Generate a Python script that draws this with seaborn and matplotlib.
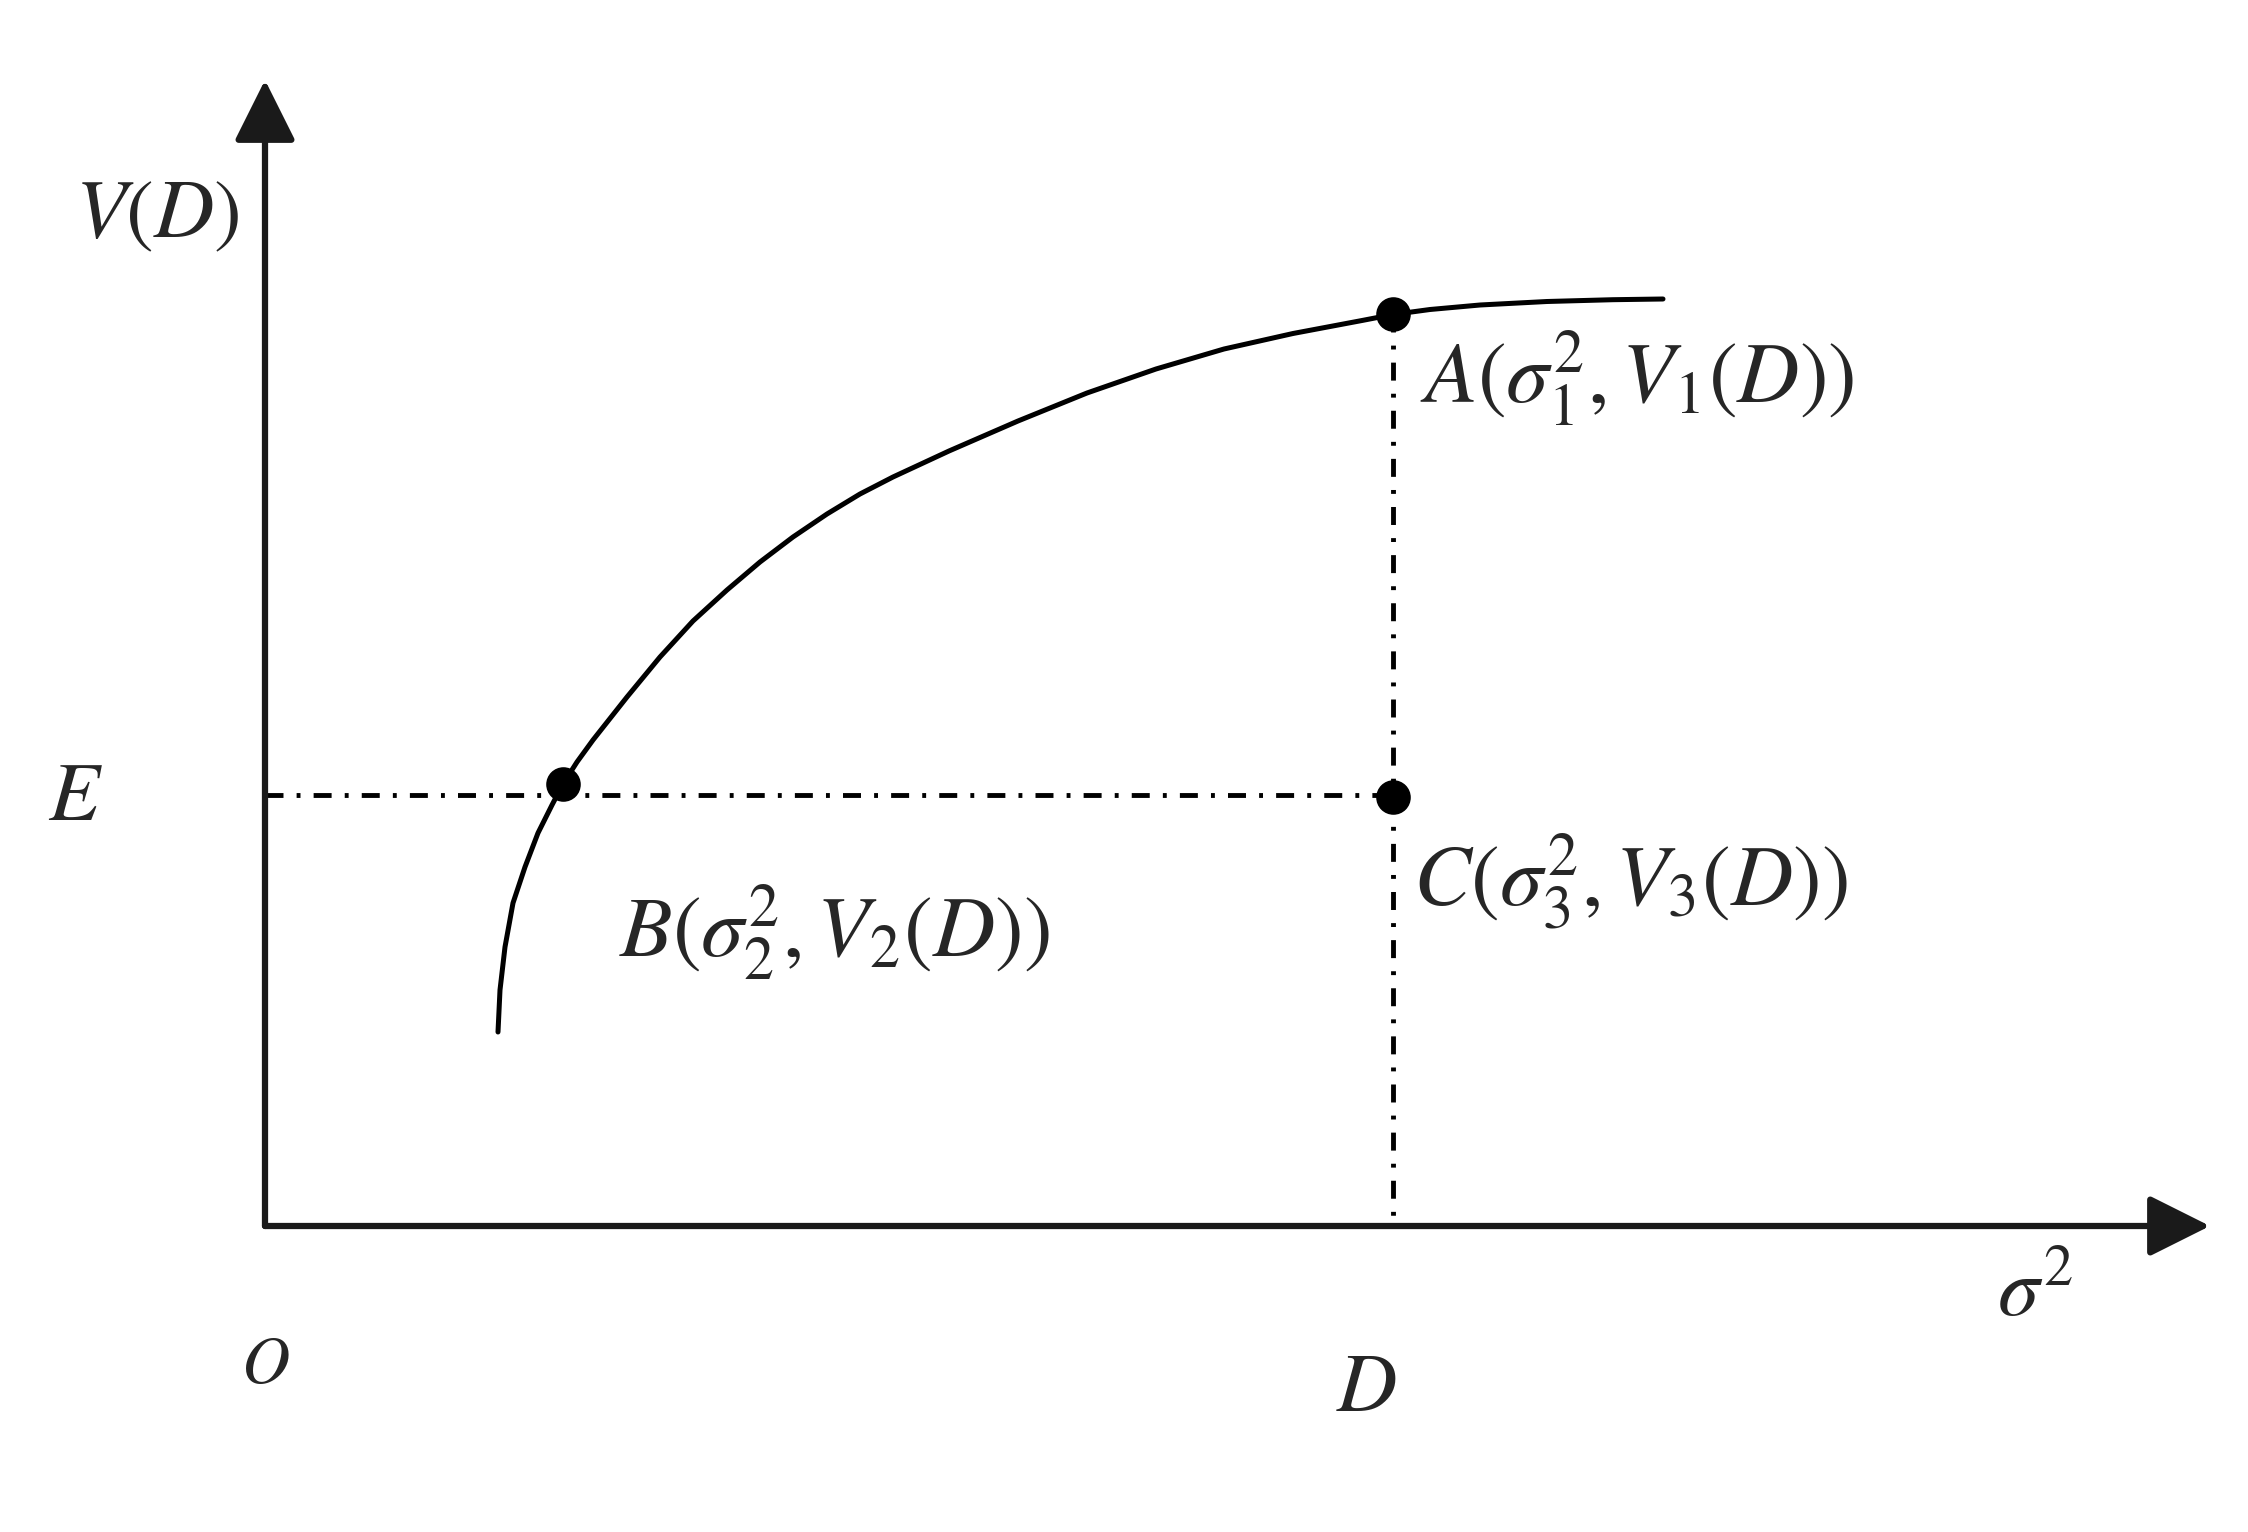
import matplotlib
matplotlib.use("Agg")
import matplotlib.pyplot as plt
import seaborn as sns
import pandas as pd

# curve V(D) (units: 100 px, origin at O)
curve_x = [2.33, 2.35, 2.40, 2.48, 2.60, 2.73, 2.87, 2.98, 3.12, 3.28, 3.62, 3.95,
           4.28, 4.62, 4.95, 5.28, 5.62, 5.95, 6.28, 6.84, 7.53, 8.22, 8.91, 9.59,
           10.28, 10.97, 11.28, 11.65, 12.15, 12.82, 13.48, 13.98]
curve_y = [1.94, 2.36, 2.79, 3.23, 3.59, 3.93, 4.21, 4.42, 4.64, 4.86, 5.29, 5.69,
           6.05, 6.36, 6.64, 6.89, 7.12, 7.32, 7.49, 7.75, 8.05, 8.33, 8.57, 8.77,
           8.925, 9.055, 9.115, 9.165, 9.21, 9.245, 9.263, 9.27]

point_names = ["A", "B", "C"]
point_x = [11.28, 2.98, 11.28]
point_y = [9.125, 4.42, 4.29]
point_labels = [r"$A(\sigma_1^2,V_1(D))$", r"$B(\sigma_2^2,V_2(D))$", r"$C(\sigma_3^2,V_3(D))$"]

D_value = 11.28
E_value = 4.31
x_axis_end = 19.45
y_axis_end = 11.46

sns.set_style("white")
plt.rcParams["mathtext.fontset"] = "stix"
plt.rcParams["font.family"] = ["Liberation Serif", "DejaVu Serif"]

fig = plt.figure(figsize=(22.48, 15.32), dpi=100)
ax = fig.add_axes([0, 0, 1, 1])
ax.set_xlim(-2.65, 19.83)
ax.set_ylim(-3.06, 12.26)
ax.axis("off")

# axes with arrow heads
arrow_kw = dict(arrowstyle="-|>,head_length=0.4,head_width=0.2", mutation_scale=95,
                lw=4.5, color="#1a1a1a", shrinkA=0, shrinkB=0)
ax.annotate("", xy=(x_axis_end, 0), xytext=(0, 0), arrowprops=arrow_kw)
ax.annotate("", xy=(0, y_axis_end), xytext=(0, 0), arrowprops=arrow_kw)

# dash-dot guide lines
dashdot = (0, (3.7, 2.7, 0.8, 2.7))
ax.plot([0, D_value], [E_value, E_value], color="black", lw=3.5, linestyle=dashdot)
ax.plot([D_value, D_value], [point_y[0], 0], color="black", lw=3.5, linestyle=dashdot)

curve = pd.DataFrame({"x": curve_x, "y": curve_y})
sns.lineplot(data=curve, x="x", y="y", sort=False, color="black", lw=3.6, ax=ax)

pts = pd.DataFrame({"name": point_names, "x": point_x, "y": point_y})
sns.scatterplot(data=pts, x="x", y="y", color="black", s=620, edgecolor="black",
                linewidth=0, ax=ax, zorder=5)

fs = 62
ax.text(11.55, 8.48, point_labels[0], fontsize=fs, ha="left", va="center")
ax.text(3.54, 2.94, point_labels[1], fontsize=fs, ha="left", va="center")
ax.text(11.48, 3.44, point_labels[2], fontsize=fs, ha="left", va="center")

ax.text(-1.08, 10.08, r"$V(D)$", fontsize=60, ha="center", va="center")
ax.text(-1.90, 4.26, r"$E$", fontsize=60, ha="center", va="center")
ax.text(0.0, -1.41, r"$O$", fontsize=48, ha="center", va="center")
ax.text(D_value - 0.26, -1.65, r"$D$", fontsize=60, ha="center", va="center")
ax.text(17.70, -0.70, r"$\sigma^2$", fontsize=60, ha="center", va="center")

fig.savefig("out.png", dpi=100)
plt.close(fig)
